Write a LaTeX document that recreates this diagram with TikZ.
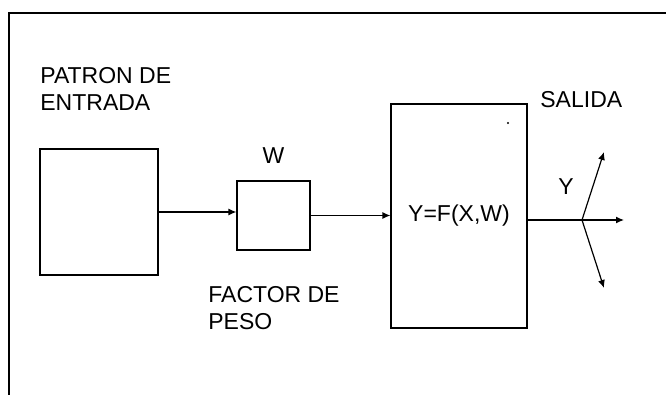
\documentclass[tikz,border=0pt]{standalone}
\usepackage{fontspec}
\setmainfont{Liberation Sans}
\usetikzlibrary{arrows.meta, positioning}

\begin{document}
\begin{tikzpicture}[x=0.5pt, y=-0.5pt,
    font=\fontsize{11.5}{13.5}\selectfont,
    blk/.style={draw, line width=0.6pt, inner sep=0pt},
    lbl/.style={align=left, inner sep=0pt},
    flow/.style={line width=0.6pt, -{Latex[length=4pt, width=3.5pt]}}
]
    \useasboundingbox (0,0) rectangle (666,395);
    % marco
    \draw[line width=1pt] (666,13) -- (9,13) -- (9,395);

    % bloques
    \node[blk, minimum width=59pt, minimum height=63pt] (patron) at (99,212) {};
    \node[blk, minimum width=36.5pt, minimum height=34.5pt] (peso) at (273.5,215.5) {};
    \node[blk, minimum width=68pt, minimum height=112pt] (red) at (459,216) {Y=F(X,W)};

    % textos
    \node[lbl, anchor=west] (tpatron) at (40,89) {PATRON DE\\ENTRADA};
    \node[lbl, above=8pt of peso] (tw) {W};
    \node[lbl, anchor=west] (tpeso) at (208,308) {FACTOR DE\\PESO};
    \node[lbl, anchor=west] (tsalida) at (540,100) {SALIDA};
    \node[lbl] (ty) at (566,187) {Y};
    \fill (508,123) circle (0.6pt);

    % salidas
    \coordinate (split) at (582,220);
    \coordinate (sup) at (604,152);
    \coordinate (med) at (624,220);
    \coordinate (inf) at (604,288);

    \draw[flow] (patron.east) -- (patron.east -| peso.west);
    \draw[flow] (peso.east) -- (peso.east -| red.west);
    \draw[flow] (red.east |- split) -- (med);
    \draw[flow] (split) -- (sup);
    \draw[flow] (split) -- (inf);
\end{tikzpicture}
\end{document}
